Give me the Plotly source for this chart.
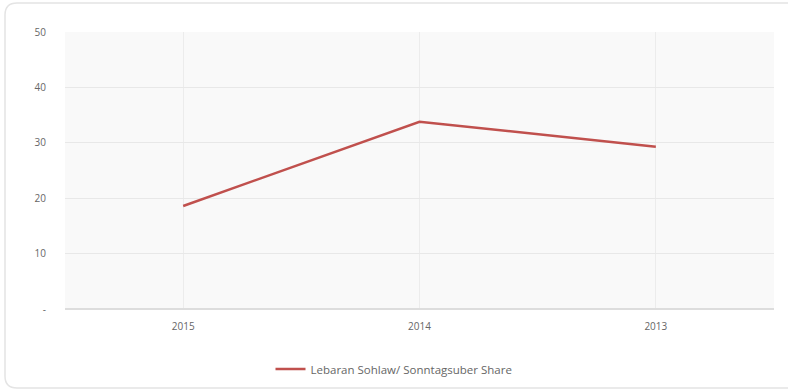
import plotly.graph_objects as go

years = ["2015", "2014", "2013"]
values = [18.6, 33.8, 29.3]
series_name = "Lebaran Sohlaw/ Sonntagsuber Share"
y_ticks = [0, 10, 20, 30, 40, 50]
y_tick_labels = ["-", "10", "20", "30", "40", "50"]

fig = go.Figure()
fig.add_trace(go.Scatter(
    x=years, y=values, mode="lines", name=series_name,
    line=dict(color="#c0504d", width=2.5),
))

W, H = 788, 392
ML, MR, MT, MB = 65, 14, 32, 83
PW, PH = W - ML - MR, H - MT - MB


def px_x(x):
    return (x - ML) / PW


def px_y(y):
    return (H - MB - y) / PH


# rounded card border
r = 12
x0, x1, y0, y1 = 5, 800, 3, 388
path = (
    f"M {px_x(x0 + r)},{px_y(y0)} L {px_x(x1)},{px_y(y0)} "
    f"M {px_x(x1)},{px_y(y1)} L {px_x(x0 + r)},{px_y(y1)} "
    f"Q {px_x(x0)},{px_y(y1)} {px_x(x0)},{px_y(y1 - r)} "
    f"L {px_x(x0)},{px_y(y0 + r)} "
    f"Q {px_x(x0)},{px_y(y0)} {px_x(x0 + r)},{px_y(y0)}"
)

fig.update_layout(
    width=W, height=H,
    margin=dict(l=ML, r=MR, t=MT, b=MB, autoexpand=False),
    paper_bgcolor="white",
    plot_bgcolor="#f9f9f9",
    font=dict(family="Open Sans", size=10, color="#666666"),
    showlegend=True,
    legend=dict(orientation="h", x=0.5, xanchor="center", xref="container",
                y=(H - 369) / H, yanchor="middle", yref="container",
                font=dict(size=11.5, color="#666666"), bgcolor="rgba(0,0,0,0)"),
    xaxis=dict(type="category", range=[-0.5, 2.5], showgrid=True, gridcolor="#ececec",
               zeroline=False, showline=False, ticks="", tickfont=dict(size=10),
               ticklabelstandoff=10),
    yaxis=dict(range=[0, 50], tickvals=y_ticks, ticktext=y_tick_labels,
               showgrid=True, gridcolor="#e8e8e8", zeroline=True, zerolinecolor="#dddddd",
               zerolinewidth=2, ticks="", ticklabelstandoff=18, tickfont=dict(size=10)),
    shapes=[dict(type="path", xref="paper", yref="paper", path=path,
                 line=dict(color="#e4e4e4", width=1.5), layer="below")],
)
fig.write_html("out.html", config={"displayModeBar": False},
               post_script="document.body.style.margin='0';document.body.style.overflow='hidden';")
